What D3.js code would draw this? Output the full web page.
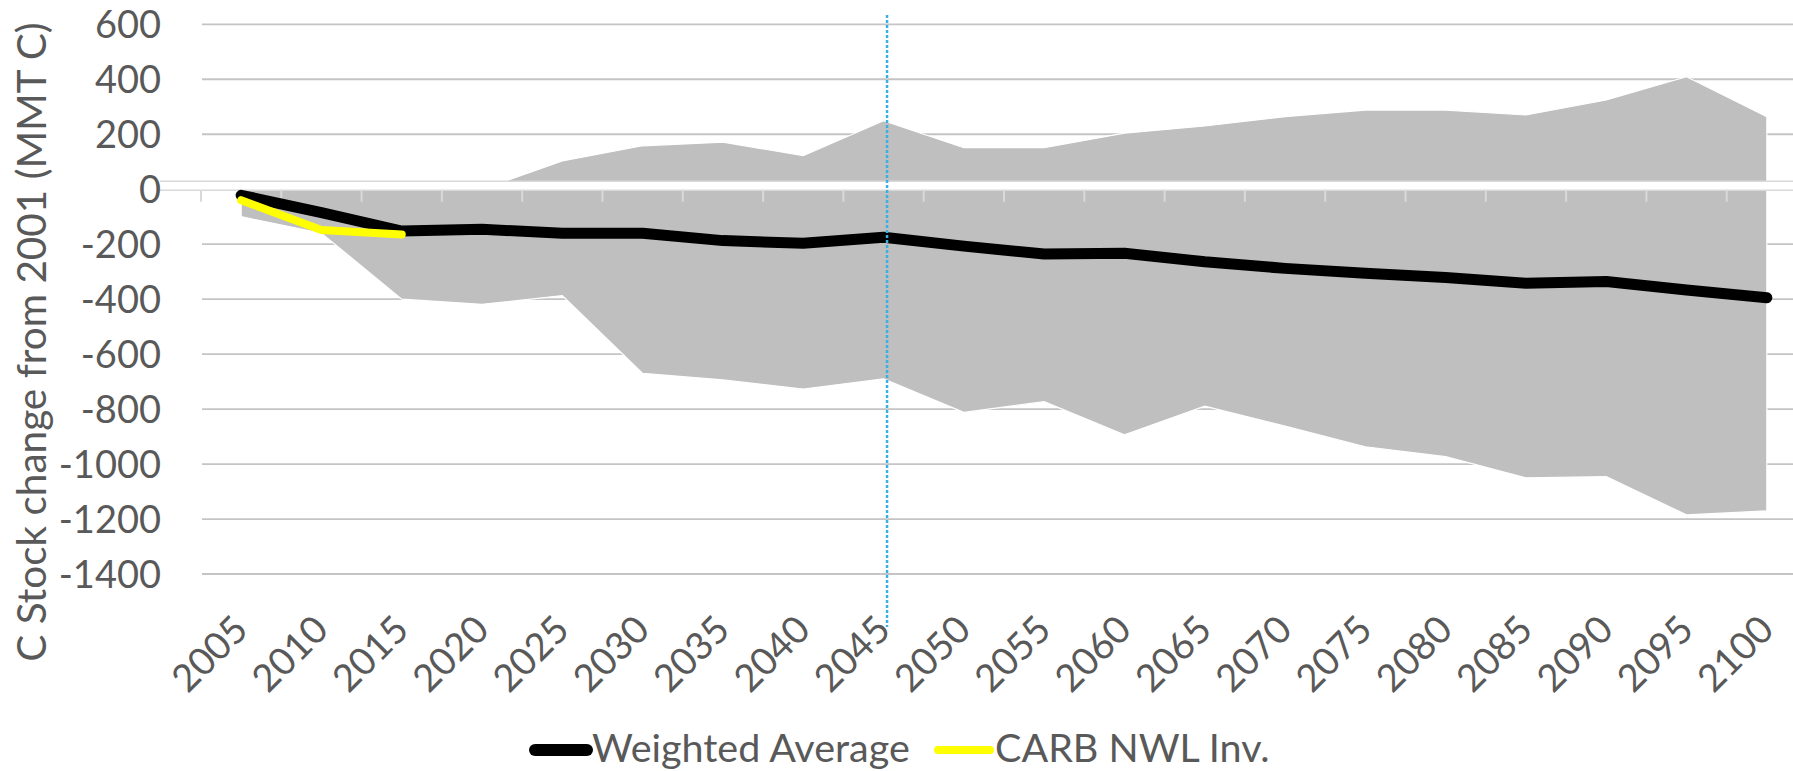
<!DOCTYPE html>
<html>
<head>
<meta charset="utf-8">
<script src="https://cdn.jsdelivr.net/npm/d3@7"></script>
<style>
  body { margin: 0; background: #fff; }
  svg text { font-family: Lato, "Open Sans", sans-serif; fill: #595959; }
</style>
</head>
<body>
<svg width="1793" height="771"></svg>
<script>
var years = [2005, 2010, 2015, 2020, 2025, 2030, 2035, 2040, 2045, 2050,
             2055, 2060, 2065, 2070, 2075, 2080, 2085, 2090, 2095, 2100];
var weighted = [-22, -85, -152, -146, -160, -160, -187, -197, -175, -207,
                -236, -233, -264, -288, -306, -321, -342, -336, -367, -395];
var upper = [0, 0, 0, 0, 103, 158, 171, 122, 249, 151,
             151, 204, 230, 264, 288, 288, 270, 325, 409, 264];
var lower = [-100, -160, -400, -419, -387, -670, -694, -727, -690, -812,
             -773, -894, -789, -862, -937, -973, -1050, -1046, -1185, -1170];
var carbYears = [2005, 2010, 2015];
var carb = [-40, -148, -165];
var yTicks = [600, 400, 200, 0, -200, -400, -600, -800, -1000, -1200, -1400];
var markYear = 2045;

var svg = d3.select("svg");

var x = d3.scalePoint().domain(years).range([201, 1807]).padding(0.5);
var step = x.step();
var y = d3.scaleLinear().domain([-1400, 600]).range([574, 24.3]);

// 网格线
svg.append("g").selectAll("line")
    .data(yTicks.filter(d => d != 0))
    .enter().append("line")
    .attr("x1", 202).attr("x2", 1807)
    .attr("y1", d => y(d)).attr("y2", d => y(d))
    .attr("stroke", "#c4c4c4")
    .attr("stroke-width", 1.8);

// 灰色范围带
var band = d3.area()
    .x((d, i) => x(years[i]))
    .y0((d, i) => y(lower[i]))
    .y1((d, i) => y(upper[i]));
svg.append("path")
    .datum(upper)
    .attr("d", band)
    .attr("fill", "#bfbfbf")
    .attr("stroke", "#fff")
    .attr("stroke-width", 1.2);

// 零轴 (白色粗线)
var y0 = y(0);
svg.append("rect")
    .attr("x", 160).attr("y", y0 - 8)
    .attr("width", 1793 - 160).attr("height", 9)
    .attr("fill", "#fff");
[y0 - 8, y0 + 1].forEach(function (yy) {
    svg.append("line")
        .attr("x1", 160).attr("x2", 1807)
        .attr("y1", yy).attr("y2", yy)
        .attr("stroke", "#d9d9d9")
        .attr("stroke-width", 1.5);
});
// 刻度
svg.append("g").selectAll("line")
    .data(d3.range(years.length + 1))
    .enter().append("line")
    .attr("x1", k => 201 + k * step).attr("x2", k => 201 + k * step)
    .attr("y1", y0 + 1).attr("y2", y0 + 12.5)
    .attr("stroke", "#d9d9d9")
    .attr("stroke-width", 2);

// 加权平均线
var line = d3.line()
    .x((d, i) => x(years[i]))
    .y(d => y(d));
svg.append("path")
    .datum(weighted)
    .attr("d", line)
    .attr("fill", "none")
    .attr("stroke", "#000")
    .attr("stroke-width", 11)
    .attr("stroke-linejoin", "round")
    .attr("stroke-linecap", "round");

var carbLine = d3.line()
    .x((d, i) => x(carbYears[i]))
    .y(d => y(d));
svg.append("path")
    .datum(carb)
    .attr("d", carbLine)
    .attr("fill", "none")
    .attr("stroke", "#ffff00")
    .attr("stroke-width", 8)
    .attr("stroke-linejoin", "round")
    .attr("stroke-linecap", "round");

// 2045 竖虚线
svg.append("line")
    .attr("x1", x(markYear) + 3.5).attr("x2", x(markYear) + 3.5)
    .attr("y1", 15).attr("y2", 627)
    .attr("stroke", "#3bb0e3")
    .attr("stroke-width", 2.5)
    .attr("stroke-dasharray", "3,2");

// y轴标签
svg.append("g").selectAll("text")
    .data(yTicks)
    .enter().append("text")
    .attr("x", 161)
    .attr("y", d => y(d))
    .attr("dy", "0.36em")
    .attr("text-anchor", "end")
    .style("font-size", "38px")
    .text(d => d);

// x轴标签
svg.append("g").selectAll("text")
    .data(years)
    .enter().append("text")
    .attr("text-anchor", "end")
    .attr("transform", d => "translate(" + (x(d) + 9) + ",632) rotate(-45)")
    .style("font-size", "38px")
    .text(d => d);

// y轴标题
svg.append("text")
    .attr("transform", "translate(46,342) rotate(-90)")
    .attr("text-anchor", "middle")
    .style("font-size", "40.5px")
    .text("C Stock change from 2001 (MMT C)");

// 图例
var legend = [
    { name: "Weighted Average", color: "#000", w: 12, x: 530 },
    { name: "CARB NWL Inv.", color: "#ffff00", w: 8, x: 933 }
];
var lg = svg.append("g").selectAll("g")
    .data(legend)
    .enter().append("g");
lg.append("line")
    .attr("x1", d => d.x + 5).attr("x2", d => d.x + 57)
    .attr("y1", 750).attr("y2", 750)
    .attr("stroke", d => d.color)
    .attr("stroke-width", d => d.w)
    .attr("stroke-linecap", "round");
lg.append("text")
    .attr("x", d => d.x + 62)
    .attr("y", 762)
    .style("font-size", "39.5px")
    .text(d => d.name);
</script>
</body>
</html>
